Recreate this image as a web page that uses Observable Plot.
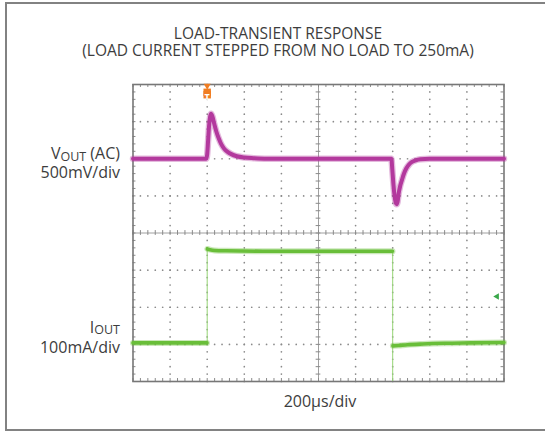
<!DOCTYPE html>
<html>
<head>
<meta charset="utf-8">
<script src="https://cdn.jsdelivr.net/npm/d3@7"></script>
<script src="https://cdn.jsdelivr.net/npm/@observablehq/plot@0.6"></script>
<style>
  body { margin: 0; background: #fff; }
  #wrap { position: relative; width: 545px; height: 433px; overflow: hidden;
          font-family: "Open Sans", sans-serif; color: #3d3d3d; }
  #border { position: absolute; left: 5px; top: 2px; width: 600px; height: 429px;
            border: 2px solid #828282; box-sizing: border-box; }
  #chart { position: absolute; left: 0; top: 0; }
  .t { position: absolute; white-space: nowrap; font-size: 15.5px; line-height: 16px; }
  .title { left: 0; width: 556px; text-align: center; }
  .ch { right: 425px; text-align: right; font-size: 16px; }
  .ch .sub { font-size: 12.5px; position: relative; top: 1.5px; }
  #xlab { left: 220px; width: 200px; top: 393px; text-align: center; font-size: 16px; }
</style>
</head>
<body>
<div id="wrap">
  <div id="border"></div>
  <div id="chart"></div>
  <div class="t title" style="top:24.5px">LOAD-TRANSIENT RESPONSE</div>
  <div class="t title" style="top:42.3px">(LOAD CURRENT STEPPED FROM NO LOAD TO 250mA)</div>
  <div class="t ch" style="top:145.3px">V<span class="sub">OUT</span> (AC)</div>
  <div class="t ch" style="top:163.6px">500mV/div</div>
  <div class="t ch" style="top:318.6px">I<span class="sub">OUT</span></div>
  <div class="t ch" style="top:339.2px">100mA/div</div>
  <div class="t" id="xlab">200µs/div</div>
</div>
<script>
// Scope settings
const timePerDiv = 200;          // µs/div
const vScale = 500;              // mV/div
const iScale = 100;              // mA/div
const vPosition = 2;             // VOUT trace offset, divisions
const iPosition = -2.96;         // IOUT zero level, divisions
const stepUpTime = 400;          // µs, load applied (trigger)
const stepDownTime = 1400;       // µs, load removed

// Graticule: 10 x 8 divisions, 5 minor steps per division
const timeDivs = [0, 200, 400, 600, 800, 1000, 1200, 1400, 1600, 1800, 2000];
const levelDivs = [-4, -3, -2, -1, 0, 1, 2, 3, 4];
const minorPerDiv = 5;

// VOUT (AC coupled), mV
const vTime  = [0, 395, 400, 405, 410, 416, 421, 428, 438, 450, 462, 475, 490, 510, 530, 560, 600, 650, 720,
                1393, 1398, 1404, 1410, 1416, 1421, 1426, 1432, 1440, 1450, 1460, 1473, 1488, 1504, 1525, 1549, 1600, 2000];
const vMilli = [0, 0, 60, 250, 440, 570, 606, 570, 470, 360, 275, 200, 140, 92, 62, 34, 16, 7, 0,
                0, -150, -350, -500, -590, -613, -585, -470, -370, -285, -205, -132, -78, -43, -20, -7, 0, 0];

// IOUT, mA
const iTime  = [0, 200, 399, 401, 415, 440, 500, 700, 1000, 1399, 1401, 1430, 1480, 1560, 1680, 1820, 2000];
const iMilli = [0, 0, 0, 253, 251, 249, 248, 247, 247, 247, -8, -7, -5, -3, -1, 0, 1];
const iSpikeMin = -104;          // current probe undershoot at load release, mA
const iMarkerLevel = -1.71;      // IOUT channel marker, divisions

const x0 = timeDivs[0], x1 = timeDivs[timeDivs.length - 1];
const y0 = levelDivs[0], y1 = levelDivs[levelDivs.length - 1];
const minorT = d3.range(x0, x1 + 1e-6, timePerDiv / minorPerDiv);
const minorY = d3.range(y0, y1 + 1e-6, 1 / minorPerDiv).map(v => +v.toFixed(3));
const centerT = (x0 + x1) / 2, centerY = 0;

const vDiv = mv => vPosition + mv / vScale;
const iDiv = ma => iPosition + ma / iScale;

const vData = vTime.map((t, k) => ({t, y: vDiv(vMilli[k])}));
const iData = iTime.map((t, k) => ({t, y: iDiv(iMilli[k]),
  seg: t < stepUpTime ? "off" : t < stepDownTime ? "on" : "after"}));
const edges = [
  {t: stepUpTime,   a: iDiv(iMilli[2]), b: iDiv(iMilli[3])},
  {t: stepDownTime, a: iDiv(iMilli[9]), b: iDiv(iSpikeMin)}
];

// Dotted gridlines: a dot at every minor step along each major line
const innerT = timeDivs.slice(1, -1).filter(t => t !== centerT);
const innerY = levelDivs.slice(1, -1).filter(y => y !== centerY);
const gridDots = [
  ...innerT.flatMap(t => minorY.map(y => ({t, y}))),
  ...innerY.flatMap(y => minorT.map(t => ({t, y})))
];

const tickT = 0.08 * timePerDiv;   // inward tick length along x, µs (~3px)
const tickY = 0.08;                // inward tick length along y, div
const gridColor = "#8a8a8a";
const magenta = "#b3399d";
const green = "#69be39";
const orange = "#f07d22";

const chart = Plot.plot({
  width: 545, height: 433,
  marginLeft: 132.5, marginRight: 41.5, marginTop: 84, marginBottom: 52,
  x: {domain: [x0, x1], axis: null},
  y: {domain: [y0, y1], axis: null},
  style: {background: "transparent", overflow: "visible"},
  marks: [
    Plot.dot(gridDots, {x: "t", y: "y", r: 0.85, fill: gridColor, stroke: null}),
    // solid center lines with cross ticks
    Plot.ruleY([centerY], {stroke: "#a0a0a0", strokeWidth: 1}),
    Plot.ruleX([centerT], {stroke: "#a0a0a0", strokeWidth: 1}),
    Plot.ruleX(minorT, {x: d => d, y1: centerY - 0.065, y2: centerY + 0.065, stroke: gridColor}),
    Plot.ruleY(minorY, {y: d => d, x1: centerT - tickT * 0.8, x2: centerT + tickT * 0.8, stroke: gridColor}),
    // inward ticks on the frame
    Plot.ruleX(minorT, {x: d => d, y1: y1, y2: y1 - tickY, stroke: gridColor}),
    Plot.ruleX(minorT, {x: d => d, y1: y0, y2: y0 + tickY, stroke: gridColor}),
    Plot.ruleY(minorY, {y: d => d, x1: x0, x2: x0 + tickT, stroke: gridColor}),
    Plot.ruleY(minorY, {y: d => d, x1: x1, x2: x1 - tickT, stroke: gridColor}),
    Plot.frame({stroke: "#777", strokeWidth: 1.6}),
    // VOUT trace (noise band + core)
    Plot.line(vData, {x: "t", y: "y", curve: "monotone-x", stroke: magenta, strokeWidth: 6.5, strokeOpacity: 0.35}),
    Plot.line(vData, {x: "t", y: "y", curve: "monotone-x", stroke: magenta, strokeWidth: 4}),
    // IOUT trace: thin edges, thick levels
    Plot.ruleX(edges, {x: "t", y1: "a", y2: "b", stroke: "#95d474", strokeWidth: 1}),
    Plot.line(iData, {x: "t", y: "y", z: "seg", curve: "monotone-x", stroke: green, strokeWidth: 6, strokeOpacity: 0.35}),
    Plot.line(iData, {x: "t", y: "y", z: "seg", curve: "monotone-x", stroke: green, strokeWidth: 3.6}),
    // channel marker and trigger marker
    Plot.dot([{y: iMarkerLevel}], {y: "y", frameAnchor: "right", dx: -7, symbol: "triangle", rotate: -90, r: 2.4, fill: "#3aa84a", stroke: null}),
    Plot.dot([{t: stepUpTime}], {x: "t", frameAnchor: "top", dy: 1.2, symbol: "triangle", rotate: 180, r: 2.6, fill: orange, stroke: null}),
    Plot.dot([{t: stepUpTime}], {x: "t", frameAnchor: "top", dy: 7.8, symbol: "square", r: 4.2, fill: orange, stroke: null}),
    Plot.dot([{t: stepUpTime}], {x: "t", frameAnchor: "top", dy: 10.2, symbol: "square", r: 4.2, fill: orange, stroke: null}),
    Plot.text([{t: stepUpTime}], {x: "t", frameAnchor: "top", dy: 9.3, text: () => "T", fill: "white", fontSize: 9, fontWeight: "bold"})
  ]
});
document.getElementById("chart").appendChild(chart);
</script>
</body>
</html>
